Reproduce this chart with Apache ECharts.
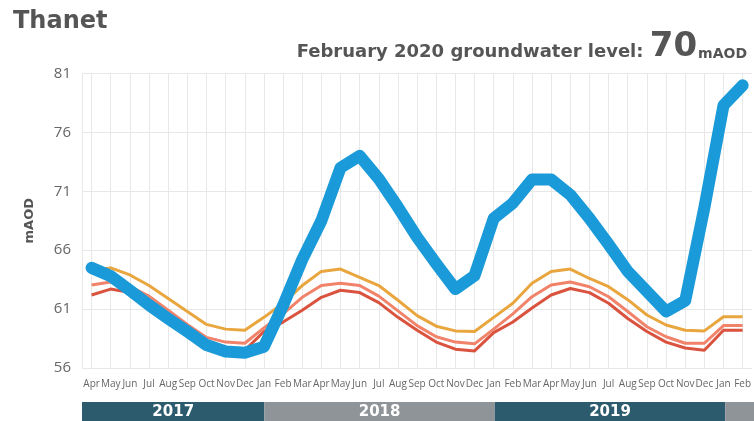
<!DOCTYPE html>
<html>
<head>
<meta charset="utf-8">
<script src="https://cdn.jsdelivr.net/npm/echarts@6/dist/echarts.min.js"></script>
<style>
html,body{margin:0;padding:0;background:#fff;}
#c{width:754px;height:421px;}
</style>
</head>
<body>
<div id="c"></div>
<script>
const months = ['Apr','May','Jun','Jul','Aug','Sep','Oct','Nov','Dec',
  'Jan','Feb','Mar','Apr','May','Jun','Jul','Aug','Sep','Oct','Nov','Dec',
  'Jan','Feb','Mar','Apr','May','Jun','Jul','Aug','Sep','Oct','Nov','Dec',
  'Jan','Feb'];
const years = ['2017','2018','2019','2020'];
const yTicks = [56, 61, 66, 71, 76, 81];

const groundwater = [64.5,63.8,62.6,61.35,60.2,59.1,57.95,57.4,57.3,
  57.8,61.3,65.2,68.5,73.0,74.0,72.05,69.65,67.1,64.85,62.7,63.85,
  68.7,70.0,72.0,72.0,70.7,68.7,66.5,64.2,62.5,60.8,61.7,69.6,
  78.3,80.0];
const upperBand = [64.3,64.5,63.9,63.0,61.9,60.8,59.7,59.3,59.2,
  60.3,61.5,63.0,64.2,64.4,63.7,63.0,61.75,60.45,59.55,59.15,59.1,
  60.3,61.5,63.2,64.2,64.4,63.6,62.9,61.8,60.5,59.65,59.2,59.15,
  60.35,60.35];
const middleBand = [63.05,63.3,62.9,62.1,60.9,59.7,58.6,58.2,58.1,
  59.4,60.6,62.0,63.0,63.2,63.0,62.1,60.85,59.6,58.65,58.2,58.05,
  59.3,60.6,62.05,63.05,63.3,62.9,62.05,60.8,59.5,58.65,58.1,58.1,
  59.6,59.6];
const lowerBand = [62.2,62.7,62.4,61.5,60.3,59.2,58.2,57.7,57.5,
  59.1,59.9,60.9,62.0,62.6,62.4,61.55,60.3,59.2,58.2,57.6,57.45,
  59.0,59.9,61.1,62.2,62.75,62.4,61.5,60.2,59.1,58.2,57.7,57.5,
  59.2,59.2];

// year segments derived from month list (boundaries at January)
const janIdx = months.map((m,i)=>m==='Jan'?i:-1).filter(i=>i>=0);
const starts = [-0.5].concat(janIdx);
const ends = janIdx.concat([months.length - 0.5]);
const yearData = years.map((y,i)=>[starts[i], ends[i], y, i % 2]);

const FONT = '"Open Sans", Lato, sans-serif';
const HFONT = '"DejaVu Sans", "Open Sans", sans-serif';
const chart = echarts.init(document.getElementById('c'));
const thin = (name, data, color) => ({
  name, type:'line', data, symbol:'none', smooth:false,
  lineStyle:{color, width:3, join:'round'}, z:2, xAxisIndex:0, yAxisIndex:0
});
chart.setOption({
  animation:false,
  textStyle:{fontFamily:FONT},
  title:[
    {text:'Thanet', left:8, top:5, textStyle:{fontFamily:HFONT, fontSize:24, fontWeight:'bold', color:'#555'}},
    {text:'{a|February 2020 groundwater level: }{b|70}{c|mAOD}', right:2, top:25,
     textStyle:{rich:{
       a:{fontFamily:HFONT, fontSize:18, fontWeight:'bold', color:'#555', verticalAlign:'bottom', padding:[0,0,3,0]},
       b:{fontFamily:HFONT, fontSize:34, fontWeight:'bold', color:'#555', verticalAlign:'bottom'},
       c:{fontFamily:HFONT, fontSize:14, fontWeight:'bold', color:'#555', verticalAlign:'bottom', padding:[0,0,3,1]}
     }}}
  ],
  grid:[
    {left:82, right:-4.5, top:73.5, bottom:53, containLabel:false},
    {left:82, right:-4.5, top:402, height:19, containLabel:false}
  ],
  xAxis:[
    {type:'category', data:months, boundaryGap:true, gridIndex:0,
     axisLine:{show:false}, axisTick:{show:false},
     axisLabel:{interval:0, fontSize:10, color:'#666', margin:11, fontFamily:FONT},
     splitLine:{show:true, alignWithLabel:true, lineStyle:{color:'#e8e8e8', width:1}}},
    {type:'value', gridIndex:1, min:-0.5, max:months.length-0.5, show:false}
  ],
  yAxis:[
    {type:'value', min:yTicks[0], max:yTicks[yTicks.length-1], interval:yTicks[1]-yTicks[0], gridIndex:0,
     name:'mAOD', nameLocation:'middle', nameGap:46, nameRotate:90,
     nameTextStyle:{fontFamily:HFONT, fontSize:13, fontWeight:'bold', color:'#555'},
     axisLine:{show:true, lineStyle:{color:'#e8e8e8'}}, axisTick:{show:false},
     axisLabel:{fontSize:15, color:'#666', margin:11, fontFamily:FONT},
     splitLine:{show:true, lineStyle:{color:'#e8e8e8', width:1}}},
    {type:'value', gridIndex:1, min:0, max:1, show:false}
  ],
  series:[
    thin('Lower', lowerBand, '#d9533f'),
    thin('Middle', middleBand, '#f0836a'),
    thin('Upper', upperBand, '#e9a63f'),
    {name:'Groundwater level', type:'line', data:groundwater, symbol:'none',
     lineStyle:{color:'#1a9ad8', width:12, join:'round', cap:'round'}, z:3},
    {type:'custom', xAxisIndex:1, yAxisIndex:1, data:yearData, silent:true,
     renderItem:(params, api)=>{
       const s = api.coord([api.value(0), 1]);
       const e = api.coord([api.value(1), 0]);
       const x0 = s[0], x1 = e[0], y0 = s[1], y1 = e[1];
       const dark = api.value(3) === 0;
       const last = params.dataIndex === yearData.length - 1;
       return {type:'group', children:[
         {type:'rect', shape:{x:x0, y:y0, width:x1-x0, height:y1-y0},
          style:{fill: dark ? '#2b5b6d' : '#8f9499'}},
         {type:'text', invisible:last, style:{text:yearData[params.dataIndex][2], x:(x0+x1)/2, y:(y0+y1)/2 + 1,
          align:'center', verticalAlign:'middle', fill:'#fff',
          font:'bold 15px ' + HFONT}}
       ]};
     }}
  ]
});
</script>
</body>
</html>
